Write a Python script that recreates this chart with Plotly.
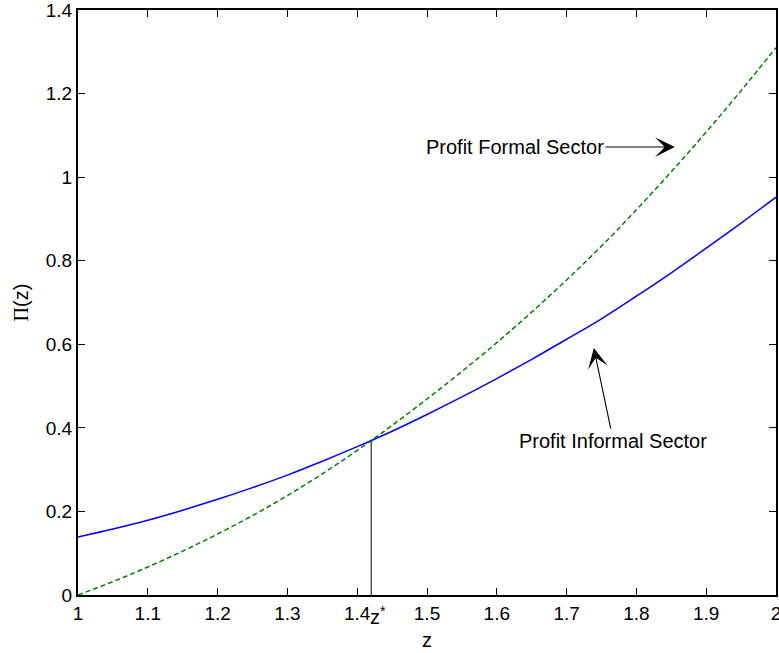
import plotly.graph_objects as go

# ---- data ----
z_values = [1.00, 1.05, 1.10, 1.15, 1.20, 1.25, 1.30, 1.35, 1.40, 1.45, 1.50,
            1.55, 1.60, 1.65, 1.70, 1.75, 1.80, 1.85, 1.90, 1.95, 2.00]
profit_informal = [0.139, 0.158, 0.179, 0.203, 0.229, 0.257, 0.287, 0.320, 0.355, 0.392, 0.432,
                   0.474, 0.518, 0.564, 0.612, 0.661, 0.715, 0.771, 0.830, 0.890, 0.952]
profit_formal = [0.000, 0.032, 0.067, 0.105, 0.146, 0.190, 0.238, 0.290, 0.346, 0.406, 0.469,
                 0.535, 0.604, 0.677, 0.754, 0.835, 0.922, 1.013, 1.108, 1.207, 1.310]
z_star = 1.42
pi_star = 0.37

x_ticks = [1, 1.1, 1.2, 1.3, 1.4, 1.5, 1.6, 1.7, 1.8, 1.9, 2]
x_tick_labels = ["1", "1.1", "1.2", "1.3", "1.4", "1.5", "1.6", "1.7", "1.8", "1.9", "2"]
y_ticks = [0, 0.2, 0.4, 0.6, 0.8, 1.0, 1.2, 1.4]
y_tick_labels = ["0", "0.2", "0.4", "0.6", "0.8", "1", "1.2", "1.4"]

# annotation anchor points (data coords)
formal_head = (1.855, 1.072)
formal_text = (1.626, 1.072)
informal_head = (1.739, 0.591)
informal_text = (1.767, 0.368)

FONT = "Arial, Liberation Sans, sans-serif"

fig = go.Figure()
fig.add_trace(go.Scatter(x=z_values, y=profit_informal, mode="lines",
                         line=dict(color="#0000FF", width=1.5, shape="spline"),
                         name="Profit Informal Sector", showlegend=False))
fig.add_trace(go.Scatter(x=z_values, y=profit_formal, mode="lines",
                         line=dict(color="#008000", width=1.5, dash="5px,3px", shape="spline"),
                         name="Profit Formal Sector", showlegend=False))
fig.add_trace(go.Scatter(x=[z_star, z_star], y=[0, pi_star], mode="lines",
                         line=dict(color="black", width=1), showlegend=False))

fig.add_annotation(x=formal_head[0], y=formal_head[1], ax=formal_text[0], ay=formal_text[1],
                   axref="x", ayref="y", xref="x", yref="y",
                   text="Profit Formal Sector", showarrow=True,
                   arrowhead=3, arrowsize=3, arrowwidth=1.1, arrowcolor="black",
                   font=dict(family=FONT, size=20, color="black"))
fig.add_annotation(x=informal_head[0], y=informal_head[1], ax=informal_text[0], ay=informal_text[1],
                   axref="x", ayref="y", xref="x", yref="y",
                   text="Profit Informal Sector", showarrow=True,
                   arrowhead=3, arrowsize=3, arrowwidth=1.1, arrowcolor="black",
                   font=dict(family=FONT, size=20, color="black"))
fig.add_annotation(x=z_star, y=0, xref="x", yref="y", xanchor="left", yanchor="top",
                   text="z<sup>*</sup>", showarrow=False, yshift=-6, xshift=-3,
                   font=dict(family=FONT, size=20, color="black"))

axis_common = dict(showline=True, linecolor="black", linewidth=2, mirror="ticks",
                   ticks="inside", ticklen=7, tickwidth=1, tickcolor="black",
                   showgrid=False, zeroline=False, ticklabeloverflow="allow",
                   tickfont=dict(family=FONT, size=19, color="black"))

fig.update_xaxes(range=[1, 2], tickvals=x_ticks, ticktext=x_tick_labels,
                 title=dict(text="z", font=dict(family=FONT, size=20, color="black"), standoff=10),
                 **axis_common)
fig.update_yaxes(range=[0, 1.4], tickvals=y_ticks, ticktext=y_tick_labels,
                 title=dict(text='<span style="font-family:Liberation Serif, Times New Roman, serif">\u03a0</span>(z)',
                            font=dict(family=FONT, size=20, color="black"), standoff=12),
                 **axis_common)

fig.update_layout(width=779, height=653, margin=dict(l=78, r=3, t=10, b=58, autoexpand=False),
                  plot_bgcolor="white", paper_bgcolor="white", showlegend=False)

fig.write_html("out.html")
